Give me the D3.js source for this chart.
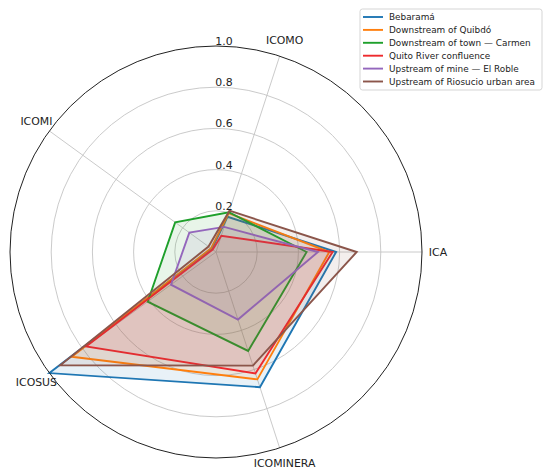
<!DOCTYPE html>
<html>
<head>
<meta charset="utf-8">
<script src="https://cdn.jsdelivr.net/npm/d3@7"></script>
<style>
  html, body { margin: 0; padding: 0; background: #fff; }
  svg { display: block; font-family: 'DejaVu Sans', sans-serif; }
</style>
</head>
<body>
<div id="chart"></div>
<script>
// Radar chart of water-quality indices per sampling site

const axisLabels = ['ICA', 'ICOMO', 'ICOMI', 'ICOSUS', 'ICOMINERA'];
const siteNames = [
    'Bebaramá',
    'Downstream of Quibdó',
    'Downstream of town — Carmen',
    'Quito River confluence',
    'Upstream of mine — El Roble',
    'Upstream of Riosucio urban area'
];
const bebarama   = [0.583, 0.180, 0.025, 1.000, 0.690];
const quibdo     = [0.550, 0.198, 0.030, 0.865, 0.650];
const carmen     = [0.440, 0.203, 0.245, 0.410, 0.505];
const quito      = [0.566, 0.083, 0.020, 0.780, 0.620];
const elRoble    = [0.495, 0.128, 0.160, 0.270, 0.345];
const riosucio   = [0.683, 0.211, 0.045, 0.935, 0.580];
const rTicks = [0.2, 0.4, 0.6, 0.8, 1.0];

const seriesValues = [bebarama, quibdo, carmen, quito, elRoble, riosucio];
const colors = ['#1f77b4', '#ff7f0e', '#1fa02c', '#ee2a2e', '#9467bd', '#8c564b'];

const WIDTH = 550;
const HEIGHT = 474;
const CX = 216;
const CY = 252;
const RADIUS = 206;

const svg = d3.select('#chart')
    .append('svg')
    .attr('width', WIDTH)
    .attr('height', HEIGHT);

const r = d3.scaleLinear().domain([0, 1]).range([0, RADIUS]);
// theta counter-clockwise from east; d3 radial angle is clockwise from north
const theta = d3.scaleLinear().domain([0, axisLabels.length]).range([0, 2 * Math.PI]);
const radialAngle = i => Math.PI / 2 - theta(i);

const g = svg.append('g').attr('transform', `translate(${CX},${CY})`);

// grid circles
g.selectAll('circle.grid')
    .data(rTicks.slice(0, -1))
    .enter().append('circle')
    .attr('class', 'grid')
    .attr('r', d => r(d))
    .attr('fill', 'none')
    .attr('stroke', '#c4c4c4')
    .attr('stroke-width', 0.9);

// spokes
g.selectAll('line.spoke')
    .data(axisLabels)
    .enter().append('line')
    .attr('class', 'spoke')
    .attr('x1', 0).attr('y1', 0)
    .attr('x2', (d, i) => r(1) * Math.cos(theta(i)))
    .attr('y2', (d, i) => -r(1) * Math.sin(theta(i)))
    .attr('stroke', '#c4c4c4')
    .attr('stroke-width', 0.9);

// series: line then fill, in plotting order
const radar = d3.lineRadial()
    .angle((d, i) => radialAngle(i))
    .radius(d => r(d))
    .curve(d3.curveLinearClosed);

seriesValues.forEach((values, k) => {
    g.append('path')
        .attr('d', radar(values))
        .attr('fill', 'none')
        .attr('stroke', colors[k])
        .attr('stroke-width', 1.9)
        .attr('stroke-linejoin', 'miter');
    g.append('path')
        .attr('d', radar(values))
        .attr('fill', colors[k])
        .attr('fill-opacity', 0.1)
        .attr('stroke', 'none');
});

// outer spine
g.append('circle')
    .attr('r', r(1))
    .attr('fill', 'none')
    .attr('stroke', '#222')
    .attr('stroke-width', 1);

// radial tick labels
g.selectAll('text.rtick')
    .data(rTicks)
    .enter().append('text')
    .attr('class', 'rtick')
    .attr('x', 8)
    .attr('y', d => -r(d) - 1)
    .attr('text-anchor', 'middle')
    .attr('font-size', 10.9)
    .attr('fill', '#222')
    .text(d => d.toFixed(1));

// axis labels
const labelR = r(1) + 16;
g.selectAll('text.axis-label')
    .data(axisLabels)
    .enter().append('text')
    .attr('class', 'axis-label')
    .attr('x', (d, i) => labelR * Math.cos(theta(i)))
    .attr('y', (d, i) => -labelR * Math.sin(theta(i)))
    .attr('text-anchor', 'middle')
    .attr('dominant-baseline', 'central')
    .attr('font-size', 10.9)
    .attr('fill', '#222')
    .text(d => d);

// legend
const legend = svg.append('g').attr('transform', 'translate(360,9)');
legend.append('rect')
    .attr('width', 182)
    .attr('height', 81)
    .attr('rx', 2.5)
    .attr('fill', '#fff')
    .attr('fill-opacity', 0.8)
    .attr('stroke', '#d0d0d0')
    .attr('stroke-width', 0.9);

const rows = legend.selectAll('g.row')
    .data(siteNames)
    .enter().append('g')
    .attr('class', 'row')
    .attr('transform', (d, i) => `translate(0,${8 + i * 12.9})`);

rows.append('line')
    .attr('x1', 3).attr('x2', 23)
    .attr('y1', 0).attr('y2', 0)
    .attr('stroke', (d, i) => colors[i])
    .attr('stroke-width', 1.9);

rows.append('text')
    .attr('x', 29)
    .attr('y', 0)
    .attr('dominant-baseline', 'central')
    .attr('font-size', 8.9)
    .attr('fill', '#222')
    .text(d => d);
</script>
</body>
</html>
